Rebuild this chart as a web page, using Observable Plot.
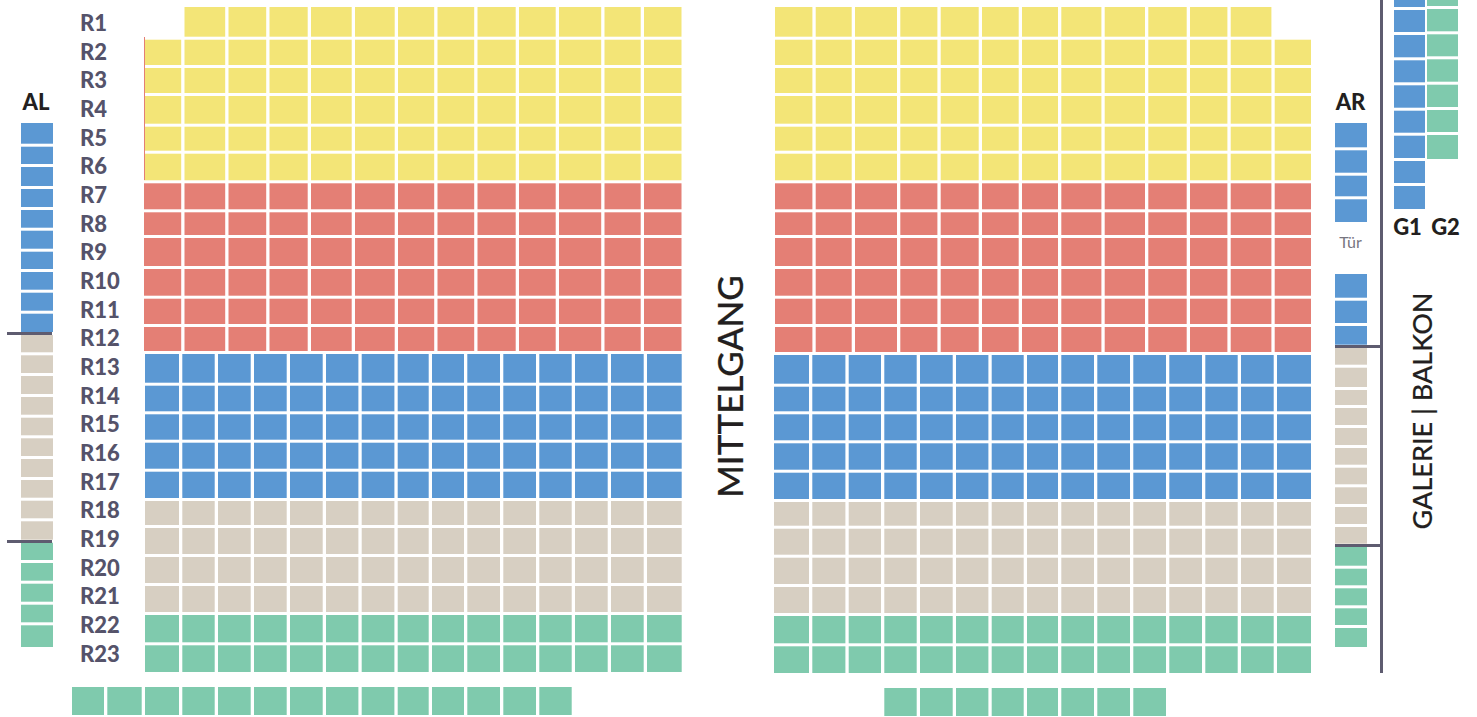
<!doctype html>
<html><head><meta charset="utf-8">
<style>html,body{margin:0;padding:0;background:#fff}svg{display:block}</style>
<script src="https://cdn.jsdelivr.net/npm/d3@7"></script>
<script src="https://cdn.jsdelivr.net/npm/@observablehq/plot@0.6"></script>
</head><body><div id="chart"></div>
<script>
// ---------- data: the hall as counted from the picture ----------
const rowNames = ["R1","R2","R3","R4","R5","R6","R7","R8","R9","R10","R11","R12","R13","R14","R15","R16","R17","R18","R19","R20","R21","R22","R23"];
const rowTiers = ["T1","T1","T1","T1","T1","T1","T2","T2","T2","T2","T2","T2","T3","T3","T3","T3","T3","T4","T4","T4","T4","T5","T5"];
const leftFirstSeat = [1,0,0,0,0,0,0,0,0,0,0,0,0,0,0,0,0,0,0,0,0,0,0];
const leftLastSeat  = [13,13,13,13,13,13,13,13,13,13,13,13,15,15,15,15,15,15,15,15,15,15,15];
const rightLastSeat = [12,13,13,13,13,13,13,13,13,13,13,13,15,15,15,15,15,15,15,15,15,15,15];
const backRowLeft  = {tier:"T5", first:-2, last:12};
const backRowRight = {tier:"T5", first:3, last:11};
const alTiers = ["T3","T3","T3","T3","T3","T3","T3","T3","T3","T3","T4","T4","T4","T4","T4","T4","T4","T4","T4","T4","T5","T5","T5","T5","T5"];
const arTiers = ["T3","T3","T3","T3",null,"T3","T3","T3","T4","T4","T4","T4","T4","T4","T4","T4","T4","T4","T5","T5","T5","T5","T5"];
const g1Tiers = ["T3","T3","T3","T3","T3","T3","T3","T3","T3"];
const g2Tiers = ["T5","T5","T5","T5","T5","T5","T5"];
const tierNames  = ["T1","T2","T3","T4","T5"];
const tierColors = ["#f3e577","#e47f75","#5b98d3","#d7cfc2","#7fcaad"];

// ---------- floor plan: seat lines mapped onto the page by piecewise scales ----------
const GAP = 3.3;
const xPlan = {
  wideL: {first:0, at:[144,184.5,228.5,269.5,311,355,398,437.5,477.5,519,559,604.5,644,684.8]},
  wideR: {first:0, at:[775,815.7,855,900.3,940.7,982,1022,1061.3,1104.7,1148.3,1190,1230.7,1274.7,1314.3]},
  narrowL: {first:-2, at:[72,107.3,145,182.3,218,254,290,326,361.7,397.7,432,467.3,503.3,539.3,575,611,647,685]},
  narrowR: {first:0, at:[774,812.3,848.7,884.3,920,956,991.7,1027,1061.3,1097.3,1133.3,1169.3,1205.3,1241,1277,1314.3]},
  al: {first:0, at:[21,56.3]},
  ar: {first:0, at:[1335,1370.3]},
  g1: {first:0, at:[1394,1428.3]},
  g2: {first:0, at:[1427,1461.3]},
  note: {first:0, at:[79.5,35.5,1350,1407,1445,731,1423]},
  rule: {first:0, at:[7,52,1335,1381,144]}
};
const upperTops = [7,39.7,68,96,126.7,153.7,183.3,212.3,238,269,298.7,327];
const yPlan = {
  rowsL: {first:0, at:[...upperTops,354,385.7,414.3,442.7,471.7,501,528,557,586,615,645.3,675,687,718]},
  rowsR: {first:0, at:[...upperTops,355,386.7,414.3,443.3,472.7,502,528.7,557.7,587,616,646.3,676,688,719]},
  al: {first:0, at:[123,146.7,167,189,210,230.7,251.7,272,292.7,313.7,335,355.3,376,397,417.7,438.3,459,480,500.7,521.3,542.7,563,583.7,604.7,625.3,650]},
  ar: {first:0, at:[123,150.3,175.7,199.3,225,274,300.7,326,347.7,367.7,390,408,428,448,467.7,487.3,507,527,546.7,568.7,588.3,608.3,628,650]},
  g1: {first:0, at:[-15,10,35,60.3,85.3,110.7,135.7,161,186,212]},
  g2: {first:0, at:[-15,9,34.3,59.3,84.7,110,135,162]},
  labels: {first:1, at:[23.3,654], step:22},
  note: {first:0, at:[102,227,242,386,410.5]},
  rule: {first:0, at:[333,541,346,545,0,673,37,180]}
};
function piecewise(plan) {
  const domain = [], range = [], base = {};
  Object.entries(plan).forEach(([name, s], k) => {
    base[name] = (k + 1) * 1000;
    s.at.forEach((v, i) => { domain.push(base[name] + s.first + i * (s.step || 1)); range.push(v); });
  });
  return {domain, range, line: (name, i) => base[name] + i};
}
const X = piecewise(xPlan), Y = piecewise(yPlan);

// ---------- seats built from the counts ----------
const seats = [];
function addSeat(tier, xs, s, ys, r) {
  seats.push({tier, x1:X.line(xs,s), x2:X.line(xs,s+1), y1:Y.line(ys,r), y2:Y.line(ys,r+1)});
}
rowNames.forEach((_, r) => {
  const gridL = r < 12 ? "wideL" : "narrowL", gridR = r < 12 ? "wideR" : "narrowR";
  for (let s = leftFirstSeat[r]; s < leftLastSeat[r]; s++) addSeat(rowTiers[r], gridL, s, "rowsL", r);
  for (let s = 0; s < rightLastSeat[r]; s++) addSeat(rowTiers[r], gridR, s, "rowsR", r);
});
for (let s = backRowLeft.first; s < backRowLeft.last; s++) addSeat(backRowLeft.tier, "narrowL", s, "rowsL", 24);
for (let s = backRowRight.first; s < backRowRight.last; s++) addSeat(backRowRight.tier, "narrowR", s, "rowsR", 24);
alTiers.forEach((t, i) => t && addSeat(t, "al", 0, "al", i));
arTiers.forEach((t, i) => t && addSeat(t, "ar", 0, "ar", i));
g1Tiers.forEach((t, i) => addSeat(t, "g1", 0, "g1", i));
g2Tiers.forEach((t, i) => addSeat(t, "g2", 0, "g2", i));

const INK = "#231f20", SLATE = "#55536a", LINE = "#5e5c70", FONT = "Lato";
const columnNotes = [
  {text:"AL", x:1, y:0}, {text:"AR", x:2, y:0},
  {text:"G1", x:3, y:1}, {text:"G2", x:4, y:1}
];
const railsH = [{y:0,a:0,b:1},{y:1,a:0,b:1},{y:2,a:2,b:3},{y:3,a:2,b:3}];

const chart = Plot.plot({
  width: 1477, height: 717,
  margin: 0,
  style: {background:"#fff", fontFamily: FONT},
  x: {type:"linear", domain: X.domain, range: X.range, axis: null},
  y: {type:"linear", domain: Y.domain, range: Y.range, axis: null},
  color: {domain: tierNames, range: tierColors},
  marks: [
    Plot.rect(seats, {x1:"x1", x2:"x2", y1:"y1", y2:"y2", fill:"tier", insetRight: GAP, insetBottom: 3}),
    Plot.ruleX([0], {x: () => X.line("rule",4), y1: () => Y.line("rule",6), y2: () => Y.line("rule",7), stroke: tierColors[1], strokeWidth: 1}),
    Plot.ruleY(railsH, {y: d => Y.line("rule",d.y), x1: d => X.line("rule",d.a), x2: d => X.line("rule",d.b), stroke: LINE, strokeWidth: 3}),
    Plot.ruleX([0], {x: () => X.line("rule",3), y1: () => Y.line("rule",4), y2: () => Y.line("rule",5), stroke: LINE, strokeWidth: 3}),
    Plot.text(rowNames, {x: () => X.line("note",0), y: (d,i) => Y.line("labels",i+1), text: d => d, textAnchor:"start", fill: SLATE, fontSize: 22, fontWeight: 900, lineAnchor:"middle"}),
    Plot.text(columnNotes, {x: d => X.line("note",d.x), y: d => Y.line("note",d.y), text:"text", fill: INK, fontSize: 22, fontWeight: 900, lineAnchor:"middle"}),
    Plot.text(["Tür"], {x: () => X.line("note",2), y: () => Y.line("note",2), text: d => d, fill: "#77757f", fontSize: 16, lineAnchor:"middle"}),
    Plot.text(["MITTELGANG"], {x: () => X.line("note",5), y: () => Y.line("note",3), text: d => d, rotate:-90, fill: INK, stroke: INK, strokeWidth: 0.2, fontSize: 35, fontWeight: 500, lineAnchor:"middle"}),
    Plot.text(["GALERIE | BALKON"], {x: () => X.line("note",6), y: () => Y.line("note",4), text: d => d, rotate:-90, fill: INK, stroke: INK, strokeWidth: 0.15, fontSize: 27, fontWeight: 500, lineAnchor:"middle"})
  ]
});
document.getElementById("chart").append(chart);
</script></body></html>
